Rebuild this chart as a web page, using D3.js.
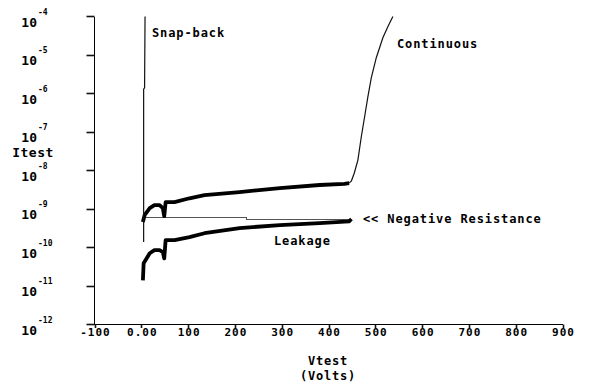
<html>
<head>
  <script src="https://d3js.org/d3.v7.min.js"></script>
  <style>
    body { margin: 0; background: #fff; }
    text { font-family: "DejaVu Sans Mono", monospace; font-weight: bold; fill: #000; }
    .ax { stroke: #000; stroke-width: 1px; shape-rendering: crispEdges; }
    .tk { stroke: #111; stroke-width: 1.6px; }
    .noisy { fill: none; stroke: #000; stroke-width: 3.8px; stroke-linejoin: round; }
    .thin { fill: none; stroke: #111; stroke-width: 1.2px; }
    .negres { fill: none; stroke: #555; stroke-width: 1px; shape-rendering: crispEdges; }
  </style>
</head>
<body>
  <svg width="591" height="383" id="chart"></svg>
  <script>
    // DATA
    const xTicks = [-100, 0, 100, 200, 300, 400, 500, 600, 700, 800, 900];
    const yExponents = [-4, -5, -6, -7, -8, -9, -10, -11, -12];

    // upper (noisy) sweep, before breakdown
    const sweepV = [3.4, 7, 18, 28, 39, 46, 49, 52, 71, 103, 135, 210, 296, 381, 434, 444];
    const sweepI = [4.6e-10, 6.9e-10, 1.05e-9, 1.26e-9, 1.26e-9, 1.05e-9, 6.5e-10, 1.51e-9,
                    1.51e-9, 1.9e-9, 2.3e-9, 2.75e-9, 3.5e-9, 4.2e-9, 4.5e-9, 4.7e-9];
    // continuous breakdown
    const contV = [444, 449, 455, 462.8, 470, 477.1, 484.2, 491.5, 502.1, 516.2, 527, 537.6];
    const contI = [4.7e-9, 5.4e-9, 8.5e-9, 1.86e-8, 7.4e-8, 2.45e-7, 8.3e-7, 2.6e-6, 8.5e-6, 2.8e-5, 5.5e-5, 1e-4];
    // leakage
    const leakV = [3.4, 5, 18, 28, 39, 46, 49, 52, 71, 103, 135, 210, 296, 381, 444, 449];
    const leakI = [1.4e-11, 3.9e-11, 7.1e-11, 8.5e-11, 8.5e-11, 7.6e-11, 5.2e-11, 1.55e-10,
                   1.55e-10, 1.86e-10, 2.35e-10, 3.2e-10, 3.8e-10, 4.3e-10, 4.8e-10, 5.5e-10];
    // negative resistance return
    const negV = [449, 225, 225, 3];
    const negI = [5.4e-10, 5.4e-10, 5.9e-10, 5.9e-10];
    // snap-back
    const snapV = [8, 7, 5, 5];
    const snapI = [1e-4, 1.4e-6, 1.3e-6, 1.38e-10];

    const svg = d3.select("svg#chart");

    const x = d3.scaleLinear().domain([-100, 900]).range([94.5, 562.5]);
    const y = d3.scaleLog().domain([1e-12, 1e-4]).range([324.5, 16.5]);
    const yTickVals = yExponents.map(e => Math.pow(10, e));

    // axes
    const axes = svg.append("g");
    axes.append("line").attr("class", "ax")
      .attr("x1", x(-100)).attr("x2", x(900)).attr("y1", y(1e-12)).attr("y2", y(1e-12));
    axes.append("line").attr("class", "ax")
      .attr("x1", x(-100)).attr("x2", x(-100)).attr("y1", y(1e-12)).attr("y2", y(1e-4));
    axes.selectAll(".xt").data(xTicks).enter().append("line").attr("class", "tk")
      .attr("x1", d => Math.round(x(d)) + 0.5).attr("x2", d => Math.round(x(d)) + 0.5)
      .attr("y1", y(1e-12)).attr("y2", y(1e-12) + 3.5);
    axes.selectAll(".yt").data(yTickVals).enter().append("line").attr("class", "tk")
      .attr("x1", x(-100) - 8).attr("x2", x(-100))
      .attr("y1", d => Math.round(y(d) - 0.5) + 0.5).attr("y2", d => Math.round(y(d) - 0.5) + 0.5);

    // x tick labels
    svg.selectAll(".xlab").data(xTicks).enter().append("text")
      .attr("x", d => x(d) + 1)
      .attr("y", 336)
      .attr("text-anchor", "middle")
      .style("font-size", "11px")
      .style("letter-spacing", "1px")
      .text(d => d === 0 ? "0.00" : d);

    // y tick labels: 10 with superscript exponent
    const yl = svg.selectAll(".ylab").data(yExponents).enter().append("g");
    yl.append("text")
      .attr("x", 37)
      .attr("y", d => y(Math.pow(10, d)) + 10)
      .attr("text-anchor", "end")
      .style("font-size", "13px")
      .text("10");
    yl.append("text")
      .attr("x", 38)
      .attr("y", d => y(Math.pow(10, d)) - 2)
      .style("font-size", "8px")
      .text(d => d);

    // axis titles
    svg.append("text").attr("x", 33).attr("y", 157).attr("text-anchor", "middle")
      .style("font-size", "13px").style("letter-spacing", "0.5px").text("Itest");
    svg.append("text").attr("x", 328).attr("y", 365).attr("text-anchor", "middle")
      .style("font-size", "12px").style("letter-spacing", "0.8px").text("Vtest");
    svg.append("text").attr("x", 328).attr("y", 380).attr("text-anchor", "middle")
      .style("font-size", "12px").style("letter-spacing", "0.8px").text("(Volts)");

    const line = d3.line().x(d => x(d[0])).y(d => y(d[1]));
    const pairs = (v, i) => v.map((d, k) => [d, i[k]]);

    svg.append("path").attr("class", "negres").attr("d", line(pairs(negV, negI)));
    svg.append("path").attr("class", "noisy").attr("d", line(pairs(sweepV, sweepI)));
    svg.append("path").attr("class", "noisy").attr("d", line(pairs(leakV, leakI)));
    svg.append("path").attr("class", "thin").attr("d", line(pairs(contV, contI)));
    svg.append("path").attr("class", "thin").attr("d", line(pairs(snapV, snapI)));

    // annotations
    const notes = [
      { t: "Snap-back", x: 152, y: 37 },
      { t: "Continuous", x: 397, y: 48 },
      { t: "<< Negative Resistance", x: 363, y: 223 },
      { t: "Leakage", x: 274, y: 245 }
    ];
    svg.selectAll(".note").data(notes).enter().append("text")
      .attr("x", d => d.x).attr("y", d => d.y)
      .style("font-size", "12px")
      .style("letter-spacing", "0.9px")
      .text(d => d.t);
  </script>
</body>
</html>
